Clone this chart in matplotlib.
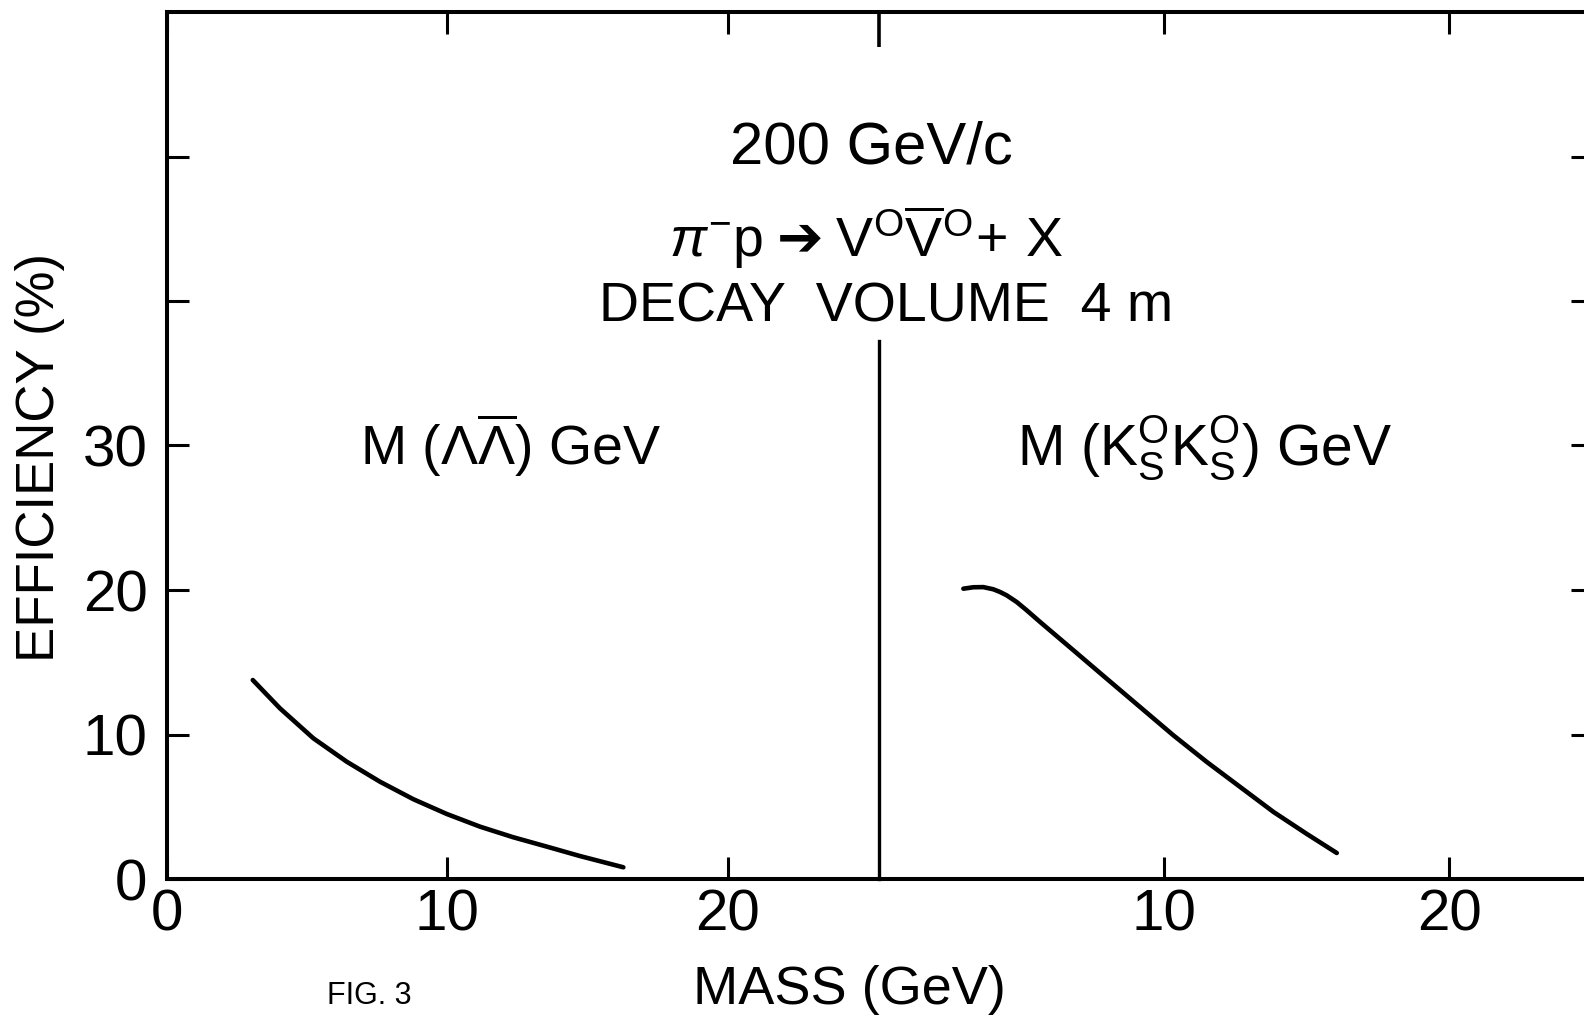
import matplotlib.pyplot as plt

plt.rcParams['font.family'] = ['Liberation Sans', 'DejaVu Sans']
plt.rcParams['mathtext.fontset'] = 'custom'
plt.rcParams['mathtext.rm'] = 'Liberation Sans'
plt.rcParams['mathtext.it'] = 'Liberation Sans:italic'
plt.rcParams['mathtext.bf'] = 'Liberation Sans:bold'
plt.rcParams['mathtext.sf'] = 'DejaVu Sans'

# M(Lambda Lambda-bar) efficiency
mass_ll = [3.06, 4.03, 5.22, 6.41, 7.60, 8.79, 9.98, 11.17, 12.35, 13.55, 14.73, 16.28]
eff_ll = [13.77, 11.81, 9.74, 8.12, 6.73, 5.52, 4.50, 3.62, 2.89, 2.24, 1.59, 0.81]

# M(K0s K0s) efficiency
mass_kk = [2.96, 3.31, 3.66, 4.01, 4.25, 4.48, 4.83, 5.18, 5.65, 6.82, 7.99, 9.16,
           10.33, 11.5, 12.67, 13.84, 15.0, 16.06]
eff_kk = [20.09, 20.19, 20.2, 20.05, 19.86, 19.63, 19.17, 18.6, 17.79, 15.83, 13.86, 11.90,
          9.94, 8.10, 6.37, 4.64, 3.13, 1.80]

yticks = [0, 10, 20, 30, 40, 50]
ytick_labels = ['0', '10', '20', '30', '', '']
divider_top = 37.2

W, H = 1584, 1021
fig = plt.figure(figsize=(W / 100, H / 100), dpi=100)
fig.patch.set_facecolor('white')

axL = fig.add_axes([167 / W, 1 - 879 / H, 712 / W, 867 / H])
axR = fig.add_axes([879 / W, 1 - 879 / H, 714 / W, 867 / H])

tick_font = 42
lw_spine = 2.9
lw_curve = 3.3

for ax in (axL, axR):
    ax.set_ylim(0, 60)
    for s in ax.spines.values():
        s.set_linewidth(lw_spine)
    ax.tick_params(direction='in', length=16, width=2.2, labelsize=tick_font)
    ax.tick_params(axis='x', pad=7, top=True)

axL.set_xlim(0, 25.4)
axL.spines['right'].set_visible(False)
axL.set_xticks([0, 10, 20])
axL.set_xticklabels(['0', '10', '20'])
axL.set_yticks(yticks)
axL.set_yticklabels(ytick_labels)
axL.tick_params(axis='y', pad=14, right=False)
axL.plot(mass_ll, eff_ll, color='black', lw=lw_curve, solid_capstyle='round')

axR.set_xlim(0, 25.05)
axR.spines['left'].set_bounds(0, divider_top)
axR.spines['left'].set_linewidth(2.4)
axR.set_xticks([10, 20])
axR.set_xticklabels(['10', '20'])
axR.set_xticks([0], minor=True)
axR.tick_params(axis='x', which='minor', direction='in', length=25, width=2.6,
                bottom=False, top=True, labelbottom=False)
axR.set_yticks(yticks[1:])
axR.tick_params(axis='y', left=False, labelleft=False, right=True, labelright=False)
axR.plot(mass_kk, eff_kk, color='black', lw=lw_curve, solid_capstyle='round',
         solid_joinstyle='round')

# annotations
fig.text(871 / W, 1 - 148 / H, '200 GeV/c', ha='center', va='center', fontsize=43)
fig.text(866 / W, 1 - 237 / H,
         '$\\pi^{-}\\mathrm{p}\\;\\mathsf{\u2794}\\;\\mathrm{V}^{\\mathrm{O}}'
         '\\overline{\\mathrm{V}}^{\\mathrm{O}}\\!+\\,\\mathrm{X}$',
         ha='center', va='center', fontsize=40)
fig.text(886 / W, 1 - 308 / H, 'DECAY  VOLUME  4 m', ha='center', va='center', fontsize=40)
fig.text(510 / W, 1 - 465 / H, r'M ($\Lambda\overline{\Lambda}$) GeV',
         ha='center', va='baseline', fontsize=40)
fig.text(1205 / W, 1 - 465 / H,
         r'M ($\mathrm{K}_{\mathrm{S}}^{\mathrm{O}}\mathrm{K}_{\mathrm{S}}^{\mathrm{O}}$) GeV',
         ha='center', va='baseline', fontsize=41)

fig.text(40 / W, 1 - 458 / H, 'EFFICIENCY (%)', rotation=90, ha='center', va='center', fontsize=38)
fig.text(849 / W, 1 - 990 / H, 'MASS (GeV)', ha='center', va='center', fontsize=39)
fig.text(369 / W, 1 - 996 / H, 'FIG. 3', ha='center', va='center', fontsize=22)

fig.savefig('out.png', dpi=100, facecolor='white')
